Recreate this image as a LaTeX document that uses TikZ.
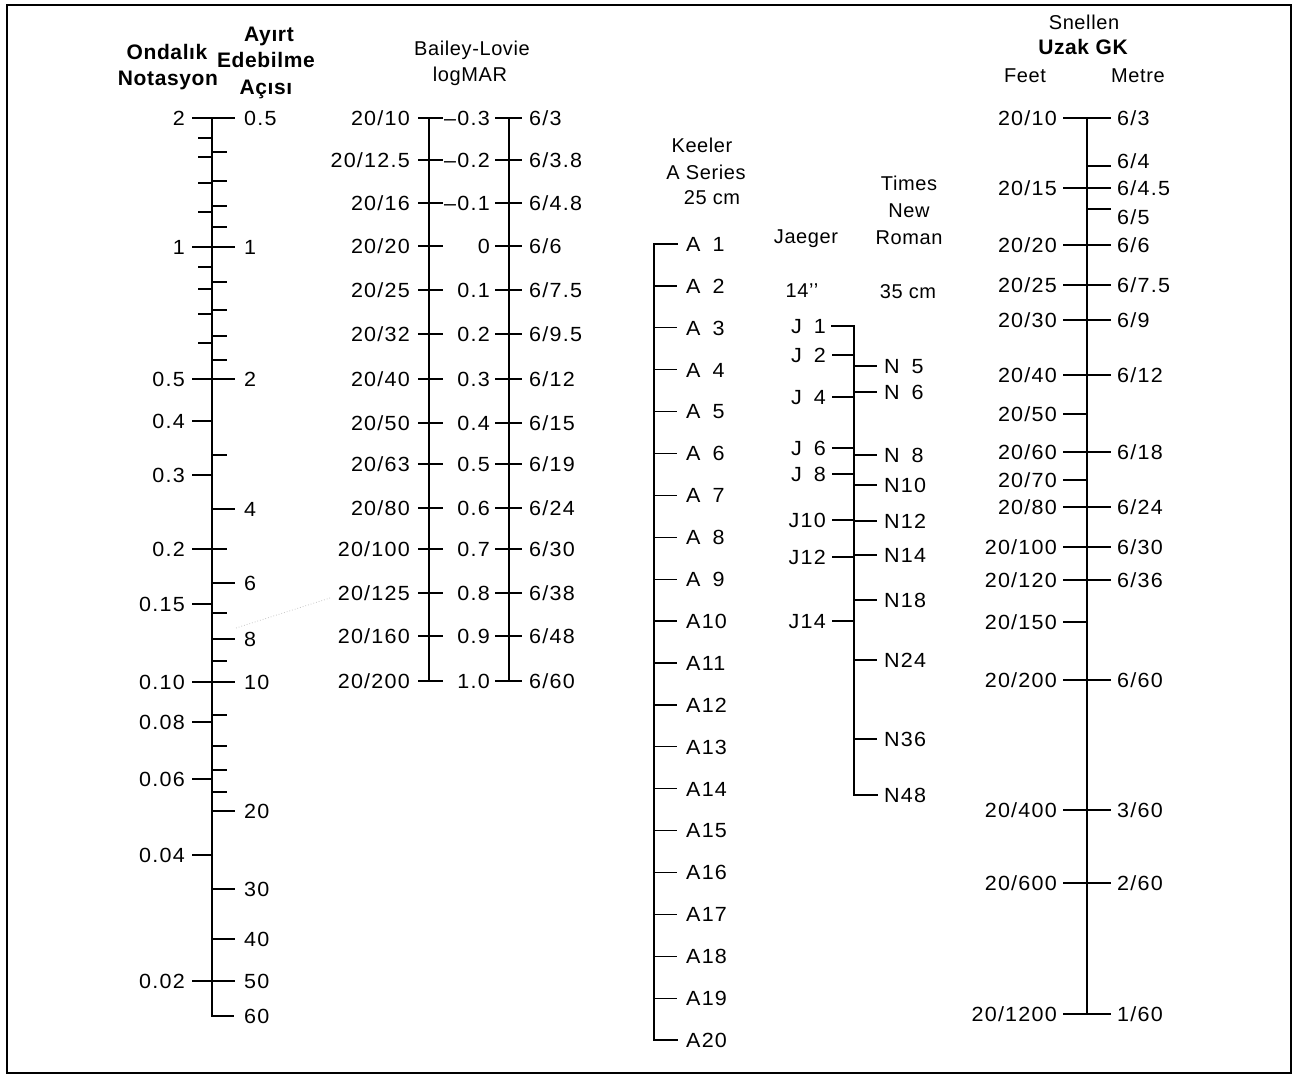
\documentclass[tikz,border=0pt]{standalone}
\usepackage{fontspec}
\setmainfont{Liberation Sans}
\newfontfamily\numf[FakeStretch=1.05,LetterSpace=6]{Liberation Sans}
\newfontfamily\hdf[LetterSpace=3]{Liberation Sans}
\newfontfamily\bhdf[LetterSpace=3]{Liberation Sans}
\begin{document}
\begin{tikzpicture}[x=1pt,y=-1pt,
  ax/.style={line width=1.8pt,line cap=rect,line join=miter},
  tk/.style={line width=1.3pt},
  lbl/.style={inner sep=0pt,text height=14.7pt,text depth=0pt,font=\numf\fontsize{20.5}{24}\selectfont},
  hd/.style={inner sep=0pt,text height=14.3pt,text depth=0pt,anchor=center,font=\hdf\fontsize{20}{24}\selectfont},
  bhd/.style={inner sep=0pt,text height=15pt,text depth=0pt,anchor=center,font=\bhdf\bfseries\fontsize{21}{24}\selectfont}]
\useasboundingbox (0,0) rectangle (1302,1075);
\coordinate (fA) at (7,5); \coordinate (fB) at (1291,1073);
\draw[line width=2pt] (fA) rectangle (fB);

% ---------- headers ----------
\node[bhd] (hOnd) at (167,52) {Ondalık};
\node[bhd] (hNot) at (168,78) {Notasyon};
\node[bhd] (hAyi) at (269,34) {Ayırt};
\node[bhd] (hEde) at (266,60) {Edebilme};
\node[bhd] (hAci) at (266,87) {Açısı};
\node[hd] (hBai) at (472,48) {Bailey-Lovie};
\node[hd] (hLog) at (470,74) {logMAR};
\node[hd] (hKee) at (702,145) {Keeler};
\node[hd] (hASe) at (706,172) {A Series};
\node[hd] (hTwf) at (712,197) {25 cm};
\node[hd] (hJae) at (806,236) {Jaeger};
\node[hd] (hTim) at (909,183) {Times};
\node[hd] (hNew) at (909,210) {New};
\node[hd] (hRom) at (909,237) {Roman};
\node[hd] (hFou) at (802,290) {14’’};
\node[hd] (hThf) at (908,291) {35 cm};
\node[hd] (hSne) at (1084,22) {Snellen};
\node[bhd] (hUza) at (1083,47) {Uzak GK};
\node[hd] (hFee) at (1025,75) {Feet};
\node[hd] (hMet) at (1138,75) {Metre};

% ---------- column 1: decimal / angle ----------
\coordinate (dTop) at (212,118);
\coordinate (dBot) at (212,1016);
\coordinate (dSix) at (233,1016);
\draw[ax] (dTop) -- (dBot) -- (dSix);
\node[lbl,anchor=west] (dSixL) at (244,1016) {60};
\foreach \y/\t [count=\i] in {118/2,247/1,379/0.5,421/0.4,475/0.3,549/0.2,604/0.15,682/0.10,722/0.08,779/0.06,855/0.04,981/0.02}{
  \coordinate (dLa\i) at (192,\y); \coordinate (dLb\i) at (212,\y);
  \draw[tk] (dLa\i) -- (dLb\i);
  \node[lbl,anchor=east] (dL\i) at (185,\y) {\t};
}
\foreach \y/\t [count=\i] in {118/0.5,247/1,379/2,509/4,583/6,639/8,682/10,811/20,889/30,939/40,981/50}{
  \coordinate (dRa\i) at (212,\y); \coordinate (dRb\i) at (235,\y);
  \draw[tk] (dRa\i) -- (dRb\i);
  \node[lbl,anchor=west] (dR\i) at (244,\y) {\t};
}
\foreach \y [count=\i] in {138,157,183,212,267,289,314,343}{
  \coordinate (dsa\i) at (198,\y); \coordinate (dsb\i) at (212,\y);
  \draw[tk] (dsa\i) -- (dsb\i);
}
\foreach \y [count=\i] in {152,181,206,227,282,310,336,360,455,549,613,661,715,746,770,792}{
  \coordinate (dta\i) at (212,\y); \coordinate (dtb\i) at (227,\y);
  \draw[tk] (dta\i) -- (dtb\i);
}
\coordinate (scA) at (236,628); \coordinate (scB) at (330,598);
\draw[gray!45,dotted,line width=0.8pt] (scA) -- (scB);

% ---------- column 2: Bailey-Lovie ----------
\coordinate (bLT) at (429,118); \coordinate (bLB) at (429,681);
\coordinate (bRT) at (509,118); \coordinate (bRB) at (509,681);
\draw[ax] (bLT) -- (bLB);
\draw[ax] (bRT) -- (bRB);
\foreach \y/\a/\m/\b [count=\i] in {118/{20/10}/{–0.3}/{6/3},160/{20/12.5}/{–0.2}/{6/3.8},203/{20/16}/{–0.1}/{6/4.8},246/{20/20}/0/{6/6},290/{20/25}/0.1/{6/7.5},334/{20/32}/0.2/{6/9.5},379/{20/40}/0.3/{6/12},423/{20/50}/0.4/{6/15},464/{20/63}/0.5/{6/19},508/{20/80}/0.6/{6/24},549/{20/100}/0.7/{6/30},593/{20/125}/0.8/{6/38},636/{20/160}/0.9/{6/48},681/{20/200}/1.0/{6/60}}{
  \coordinate (bla\i) at (418,\y); \coordinate (blb\i) at (443,\y);
  \coordinate (bra\i) at (495,\y); \coordinate (brb\i) at (522,\y);
  \draw[tk] (bla\i) -- (blb\i);
  \draw[tk] (bra\i) -- (brb\i);
  \node[lbl,anchor=east] (bL\i) at (410,\y) {\a};
  \node[lbl,anchor=east] (bM\i) at (490,\y) {\m};
  \node[lbl,anchor=west] (bR\i) at (529,\y) {\b};
}

% ---------- column 3: Keeler ----------
\coordinate (kT) at (654,244); \coordinate (kB) at (654,1040);
\coordinate (kTe) at (677,244); \coordinate (kBe) at (677,1040);
\draw[ax] (kTe) -- (kT) -- (kB) -- (kBe);
\foreach \i in {1,...,20}{
  \pgfmathsetmacro\yy{244+(\i-1)*41.9}
  \coordinate (ka\i) at (654,\yy); \coordinate (kb\i) at (677,\yy);
  \draw[tk] (ka\i) -- (kb\i);
  \ifnum\i<10
    \node[lbl,anchor=west] (kL\i) at (686,\yy) {A\hphantom{0}\i};
  \else
    \node[lbl,anchor=west] (kL\i) at (686,\yy) {A\i};
  \fi
}

% ---------- column 4: Jaeger / Times New Roman ----------
\coordinate (jT) at (854,326); \coordinate (jB) at (854,795);
\coordinate (jTe) at (832,326); \coordinate (jBe) at (877,795);
\draw[ax] (jTe) -- (jT) -- (jB) -- (jBe);
\foreach \y/\t [count=\i] in {326/{J\hphantom{0}1},355/{J\hphantom{0}2},397/{J\hphantom{0}4},448/{J\hphantom{0}6},474/{J\hphantom{0}8},520/J10,557/J12,621/J14}{
  \coordinate (ja\i) at (832,\y); \coordinate (jb\i) at (854,\y);
  \draw[tk] (ja\i) -- (jb\i);
  \node[lbl,anchor=east] (jL\i) at (826,\y) {\t};
}
\foreach \y/\t [count=\i] in {366/{N\hphantom{0}5},392/{N\hphantom{0}6},455/{N\hphantom{0}8},485/N10,521/N12,555/N14,600/N18,660/N24,739/N36,795/N48}{
  \coordinate (na\i) at (854,\y); \coordinate (nb\i) at (877,\y);
  \draw[tk] (na\i) -- (nb\i);
  \node[lbl,anchor=west] (nL\i) at (884,\y) {\t};
}

% ---------- column 5: Snellen ----------
\coordinate (sT) at (1087,118); \coordinate (sB) at (1087,1014);
\draw[ax] (sT) -- (sB);
\foreach \y/\t [count=\i] in {118/{20/10},188/{20/15},245/{20/20},285/{20/25},320/{20/30},375/{20/40},414/{20/50},452/{20/60},480/{20/70},507/{20/80},547/{20/100},580/{20/120},622/{20/150},680/{20/200},810/{20/400},883/{20/600},1014/{20/1200}}{
  \coordinate (sla\i) at (1063,\y); \coordinate (slb\i) at (1087,\y);
  \draw[tk] (sla\i) -- (slb\i);
  \node[lbl,anchor=east] (sL\i) at (1057,\y) {\t};
}
\foreach \y/\ly/\t [count=\i] in {118/118/{6/3},166/161/{6/4},188/188/{6/4.5},209/217/{6/5},245/245/{6/6},285/285/{6/7.5},320/320/{6/9},375/375/{6/12},452/452/{6/18},507/507/{6/24},547/547/{6/30},580/580/{6/36},680/680/{6/60},810/810/{3/60},883/883/{2/60},1014/1014/{1/60}}{
  \coordinate (sra\i) at (1087,\y); \coordinate (srb\i) at (1111,\y);
  \draw[tk] (sra\i) -- (srb\i);
  \node[lbl,anchor=west] (sR\i) at (1117,\ly) {\t};
}
\end{tikzpicture}
\end{document}
